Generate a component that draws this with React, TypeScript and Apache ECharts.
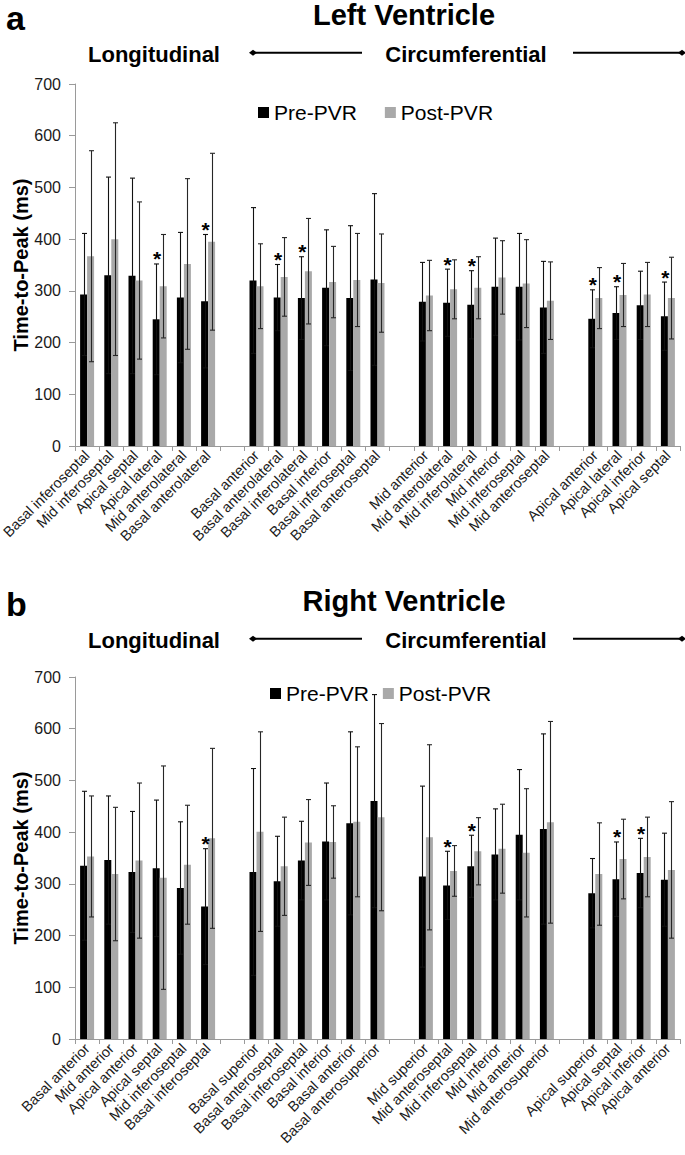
import React, { useEffect, useRef } from "react";
import * as echarts from "echarts";

// ---------- Left Ventricle (panel a) ----------
const lvCategories = [
  "Basal inferoseptal", "Mid inferoseptal", "Apical septal", "Apical lateral", "Mid anterolateral", "Basal anterolateral",
  "",
  "Basal anterior", "Basal anterolateral", "Basal inferolateral", "Basal inferior", "Basal inferoseptal", "Basal anteroseptal",
  "",
  "Mid anterior", "Mid anterolateral", "Mid inferolateral", "Mid inferior", "Mid inferoseptal", "Mid anteroseptal",
  "",
  "Apical anterior", "Apical lateral", "Apical inferior", "Apical septal",
];
const lvPre = [293, 330, 329, 245, 287, 280, null, 320, 287, 286, 306, 286, 322, null, 279, 277, 273, 308, 308, 268, null, 246, 257, 272, 251];
const lvPreSD = [118, 190, 189, 107, 126, 129, null, 141, 64, 80, 112, 140, 166, null, 76, 65, 66, 94, 103, 89, null, 56, 51, 66, 66];
const lvPost = [367, 400, 320, 309, 352, 395, null, 309, 327, 338, 317, 321, 315, null, 291, 303, 306, 326, 314, 281, null, 286, 292, 293, 286];
const lvPostSD = [204, 225, 152, 100, 165, 171, null, 82, 76, 102, 69, 90, 95, null, 68, 57, 60, 71, 85, 75, null, 59, 61, 62, 79];
const lvSig = [0, 0, 0, 1, 0, 1, 0, 0, 1, 1, 0, 0, 0, 0, 0, 1, 1, 0, 0, 0, 0, 1, 1, 0, 1];

// ---------- Right Ventricle (panel b) ----------
const rvCategories = [
  "Basal anterior", "Mid anterior", "Apical anterior", "Apical septal", "Mid inferoseptal", "Basal inferoseptal",
  "",
  "Basal superior", "Basal anteroseptal", "Basal inferoseptal", "Basal inferior", "Basal anterior", "Basal anterosuperior",
  "",
  "Mid superior", "Mid anteroseptal", "Mid inferoseptal", "Mid inferior", "Mid anterior", "Mid anterosuperior",
  "",
  "Apical superior", "Apical septal", "Apical inferior", "Apical anterior",
];
const rvPre = [335, 346, 323, 330, 292, 256, null, 323, 305, 345, 382, 417, 460, null, 314, 297, 334, 357, 395, 406, null, 282, 309, 321, 308];
const rvPreSD = [144, 124, 117, 132, 128, 112, null, 200, 87, 76, 113, 177, 206, null, 175, 66, 60, 88, 126, 184, null, 67, 72, 67, 90];
const rvPost = [353, 319, 345, 312, 337, 388, null, 401, 334, 380, 381, 420, 429, null, 390, 325, 363, 368, 360, 419, null, 319, 348, 352, 327];
const rvPostSD = [117, 129, 150, 216, 115, 174, null, 193, 95, 83, 70, 145, 181, null, 179, 49, 65, 86, 124, 195, null, 99, 77, 77, 132];
const rvSig = [0, 0, 0, 0, 0, 1, 0, 0, 0, 0, 0, 0, 0, 0, 0, 1, 1, 0, 0, 0, 0, 0, 1, 1, 0];

const yTicks = [0, 100, 200, 300, 400, 500, 600, 700];
const seriesNames = ["Pre-PVR", "Post-PVR"];
const yAxisTitle = "Time-to-Peak (ms)";

const FONT = "'Liberation Sans', Arial, Helvetica, sans-serif";
const PRE_COLOR = "#000000";
const POST_COLOR = "#a9a9a9";
const AXIS_COLOR = "#9a9a9a";
const BAR_W = 7;

function errData(mean: (number | null)[], sd: (number | null)[]) {
  const out: number[][] = [];
  mean.forEach((m, i) => {
    if (m != null && sd[i] != null) out.push([i, m, sd[i] as number]);
  });
  return out;
}

function sigData(mean: (number | null)[], sd: (number | null)[], sig: number[]) {
  const out: number[][] = [];
  sig.forEach((s, i) => {
    if (s && mean[i] != null) out.push([i, (mean[i] as number) + (sd[i] as number)]);
  });
  return out;
}

const errRender = (offset: number, color: string) => (params: any, api: any) => {
  const i = api.value(0);
  const m = api.value(1);
  const sd = api.value(2);
  const top = api.coord([i, m + sd]);
  const bot = api.coord([i, m - sd]);
  const x = Math.round(top[0] + offset) + 0.5;
  const st = { stroke: color, lineWidth: 1.1 };
  return {
    type: "group",
    children: [
      { type: "line", shape: { x1: x, y1: top[1], x2: x, y2: bot[1] }, style: st },
      { type: "line", shape: { x1: x - 2.5, y1: top[1], x2: x + 2.5, y2: top[1] }, style: st },
      { type: "line", shape: { x1: x - 2.5, y1: bot[1], x2: x + 2.5, y2: bot[1] }, style: st },
    ],
  };
};

const starRender = (params: any, api: any) => {
  const p = api.coord([api.value(0), api.value(1)]);
  return {
    type: "text",
    x: p[0] - BAR_W / 2 + 1,
    y: p[1] - 5,
    style: {
      text: "*",
      fill: "#000",
      font: `bold 21px ${FONT}`,
      align: "center",
      textAlign: "center",
      verticalAlign: "middle",
      textVerticalAlign: "middle",
    },
  };
};

function panelSeries(
  idx: number,
  pre: (number | null)[],
  preSD: (number | null)[],
  post: (number | null)[],
  postSD: (number | null)[],
  sig: number[]
) {
  return [
    {
      name: seriesNames[0], type: "bar", xAxisIndex: idx, yAxisIndex: idx,
      data: pre, barWidth: BAR_W, barGap: "0%", itemStyle: { color: PRE_COLOR }, z: 2,
    },
    {
      name: seriesNames[1], type: "bar", xAxisIndex: idx, yAxisIndex: idx,
      data: post, barWidth: BAR_W, barGap: "0%", itemStyle: { color: POST_COLOR }, z: 2,
    },
    {
      name: "preErr", type: "custom", xAxisIndex: idx, yAxisIndex: idx,
      data: errData(pre, preSD), renderItem: errRender(-BAR_W / 2, "#111"), z: 5,
      encode: { x: 0, y: 1 }, silent: true,
    },
    {
      name: "postErr", type: "custom", xAxisIndex: idx, yAxisIndex: idx,
      data: errData(post, postSD), renderItem: errRender(BAR_W / 2, "#262626"), z: 5,
      encode: { x: 0, y: 1 }, silent: true,
    },
    {
      name: "sig", type: "custom", xAxisIndex: idx, yAxisIndex: idx,
      data: sigData(pre, preSD, sig), renderItem: starRender, z: 6,
      encode: { x: 0, y: 1 }, silent: true,
    },
  ];
}

function xAxis(idx: number, cats: string[]) {
  return {
    type: "category", gridIndex: idx, data: cats,
    axisLine: { lineStyle: { color: AXIS_COLOR, width: 1 } },
    axisTick: { show: true, length: 5, lineStyle: { color: AXIS_COLOR }, alignWithLabel: false },
    axisLabel: { rotate: 45, interval: 0, fontSize: 14.5, color: "#1a1a1a", fontFamily: FONT, margin: 7 },
    splitLine: { show: false },
  };
}

function yAxis(idx: number) {
  return {
    type: "value", gridIndex: idx, min: yTicks[0], max: yTicks[yTicks.length - 1], interval: 100,
    axisLine: { show: true, lineStyle: { color: AXIS_COLOR, width: 1 } },
    axisTick: { show: true, length: 6, lineStyle: { color: AXIS_COLOR } },
    axisLabel: { fontSize: 16, color: "#1a1a1a", fontFamily: FONT, margin: 14 },
    splitLine: { show: false },
  };
}

function txt(text: string, x: number, y: number, size: number, bold: boolean, align = "center", rotation = 0) {
  return {
    type: "text", x, y, rotation,
    style: {
      text, fill: "#000",
      font: `${bold ? "bold " : ""}${size}px ${FONT}`,
      align, textAlign: align, verticalAlign: "middle", textVerticalAlign: "middle",
    },
  };
}

function header(dy: number, letter: string, title: string) {
  const ly = 52.7 + dy;
  return [
    txt(letter, 6, 18 + dy, 34, true, "left"),
    txt(title, 404, 15 + dy, 29, true),
    txt("Longitudinal", 154, 54.3 + dy, 22, true),
    txt("Circumferential", 466, 54.3 + dy, 22, true),
    { type: "line", shape: { x1: 254, y1: ly, x2: 362, y2: ly }, style: { stroke: "#000", lineWidth: 2 } },
    { type: "polygon", shape: { points: [[249, ly], [253, ly - 3], [257, ly], [253, ly + 3]] }, style: { fill: "#000" } },
    { type: "line", shape: { x1: 573, y1: ly, x2: 681, y2: ly }, style: { stroke: "#000", lineWidth: 2 } },
    { type: "polygon", shape: { points: [[678, ly], [682, ly - 3], [686, ly], [682, ly + 3]] }, style: { fill: "#000" } },
  ];
}

export default function App() {
  const ref = useRef<HTMLDivElement>(null);
  useEffect(() => {
    document.body.style.margin = "0";
    if (!ref.current) return;
    const chart = echarts.init(ref.current, null, { renderer: "svg" });
    const option: any = {
      animation: false,
      backgroundColor: "#ffffff",
      textStyle: { fontFamily: FONT },
      grid: [
        { left: 75, right: 5, top: 84, height: 362, outerBoundsMode: "none", containLabel: false },
        { left: 75, right: 5, top: 677, height: 362, outerBoundsMode: "none", containLabel: false },
      ],
      legend: [
        {
          data: seriesNames, left: 253, top: 97, itemWidth: 11, itemHeight: 11, itemGap: 28, icon: "rect",
          textStyle: { fontSize: 21, color: "#000", fontFamily: FONT }, selectedMode: false,
        },
        {
          data: seriesNames, left: 265, top: 678, itemWidth: 11, itemHeight: 11, itemGap: 14, icon: "rect",
          textStyle: { fontSize: 21, color: "#000", fontFamily: FONT }, selectedMode: false,
        },
      ],
      xAxis: [xAxis(0, lvCategories), xAxis(1, rvCategories)],
      yAxis: [yAxis(0), yAxis(1)],
      series: [
        ...panelSeries(0, lvPre, lvPreSD, lvPost, lvPostSD, lvSig),
        ...panelSeries(1, rvPre, rvPreSD, rvPost, rvPostSD, rvSig),
      ],
      graphic: [
        ...header(0, "a", "Left Ventricle"),
        ...header(586, "b", "Right Ventricle"),
        txt(yAxisTitle, 21, 265, 20, true, "center", Math.PI / 2),
        txt(yAxisTitle, 21, 858, 20, true, "center", Math.PI / 2),
      ],
    };
    chart.setOption(option);
    return () => chart.dispose();
  }, []);
  return <div ref={ref} style={{ width: 685, height: 1155 }} />;
}
